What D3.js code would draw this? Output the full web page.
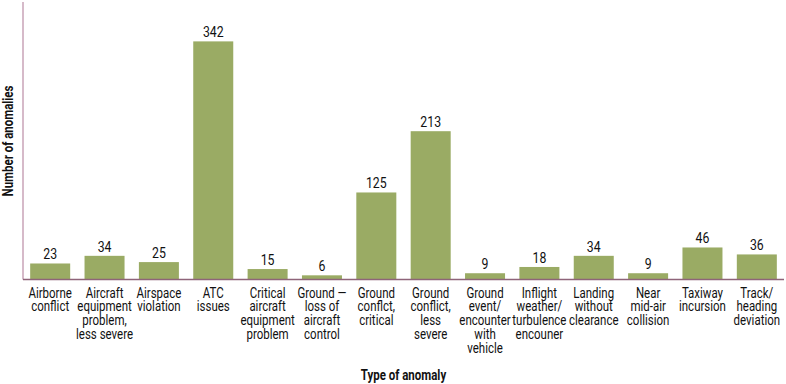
<!DOCTYPE html>
<meta charset="utf-8">
<title>Anomalies by type</title>
<style>
body { margin: 0; background: #fff; }
svg { display: block; font-family: "Roboto", sans-serif; }
.bar { fill: #9aab64; }
.val { font-size: 15px; fill: #111; text-anchor: middle; }
.cat { font-size: 14px; fill: #111; text-anchor: middle; }
.title { font-weight: bold; font-size: 14px; fill: #111; text-anchor: middle; }
</style>
<svg width="786" height="384"></svg>
<script src="https://d3js.org/d3.v7.min.js"></script>
<script>
// categories, split into the lines they're drawn on
const categories = [
  ["Airborne", "conflict"],
  ["Aircraft", "equipment", "problem,", "less severe"],
  ["Airspace", "violation"],
  ["ATC", "issues"],
  ["Critical", "aircraft", "equipment", "problem"],
  ["Ground \u2014", "loss of", "aircraft", "control"],
  ["Ground", "conflct,", "critical"],
  ["Ground", "conflict,", "less", "severe"],
  ["Ground", "event/", "encounter", "with", "vehicle"],
  ["Inflight", "weather/", "turbulence", "encouner"],
  ["Landing", "without", "clearance"],
  ["Near", "mid-air", "collision"],
  ["Taxiway", "incursion"],
  ["Track/", "heading", "deviation"]
];
const counts = [23, 34, 25, 342, 15, 6, 125, 213, 9, 18, 34, 9, 46, 36];

const svg = d3.select("svg");
const plotLeft = 23, plotRight = 784, plotTop = 1, base = 279.5;
const narrow = 0.82; // fake a condensed face

const x = d3.scaleBand()
  .domain(d3.range(categories.length))
  .range([plotLeft, plotRight])
  .paddingInner(0.264)
  .paddingOuter(0.132);
const y = d3.scaleLinear().domain([0, 400]).range([base, plotTop]);

svg.append("g").selectAll("rect")
  .data(counts)
  .enter().append("rect")
  .attr("class", "bar")
  .attr("x", (d, i) => x(i))
  .attr("width", x.bandwidth())
  .attr("y", d => y(d))
  .attr("height", d => base - y(d));

svg.append("g").selectAll("g")
  .data(counts)
  .enter().append("g")
  .attr("transform", (d, i) => `translate(${x(i) + x.bandwidth() / 2},${y(d) - 4}) scale(${narrow},1)`)
  .append("text")
  .attr("class", "val")
  .text(d => d);

// axes lines
svg.append("line")
  .attr("x1", plotLeft).attr("x2", plotLeft)
  .attr("y1", 2).attr("y2", base)
  .attr("stroke", "#c9a3b7").attr("stroke-width", 1.5);
svg.append("line")
  .attr("x1", plotLeft).attr("x2", plotRight)
  .attr("y1", base).attr("y2", base)
  .attr("stroke", "#8e6479").attr("stroke-width", 1.5);

const cat = svg.append("g").selectAll("g")
  .data(categories)
  .enter().append("g")
  .attr("transform", (d, i) => `translate(${x(i) + x.bandwidth() / 2},${base + 18}) scale(${narrow},1)`)
  .append("text")
  .attr("class", "cat");
cat.selectAll("tspan")
  .data(d => d)
  .enter().append("tspan")
  .attr("x", 0)
  .attr("dy", (d, i) => i ? 14 : 0)
  .text(d => d);

svg.append("text")
  .attr("class", "title")
  .attr("transform", `translate(${(plotLeft + plotRight) / 2},380) scale(${narrow},1)`)
  .text("Type of anomaly");

svg.append("text")
  .attr("class", "title")
  .attr("transform", `translate(13,141) rotate(-90) scale(${narrow},1)`)
  .text("Number of anomalies");
</script>
